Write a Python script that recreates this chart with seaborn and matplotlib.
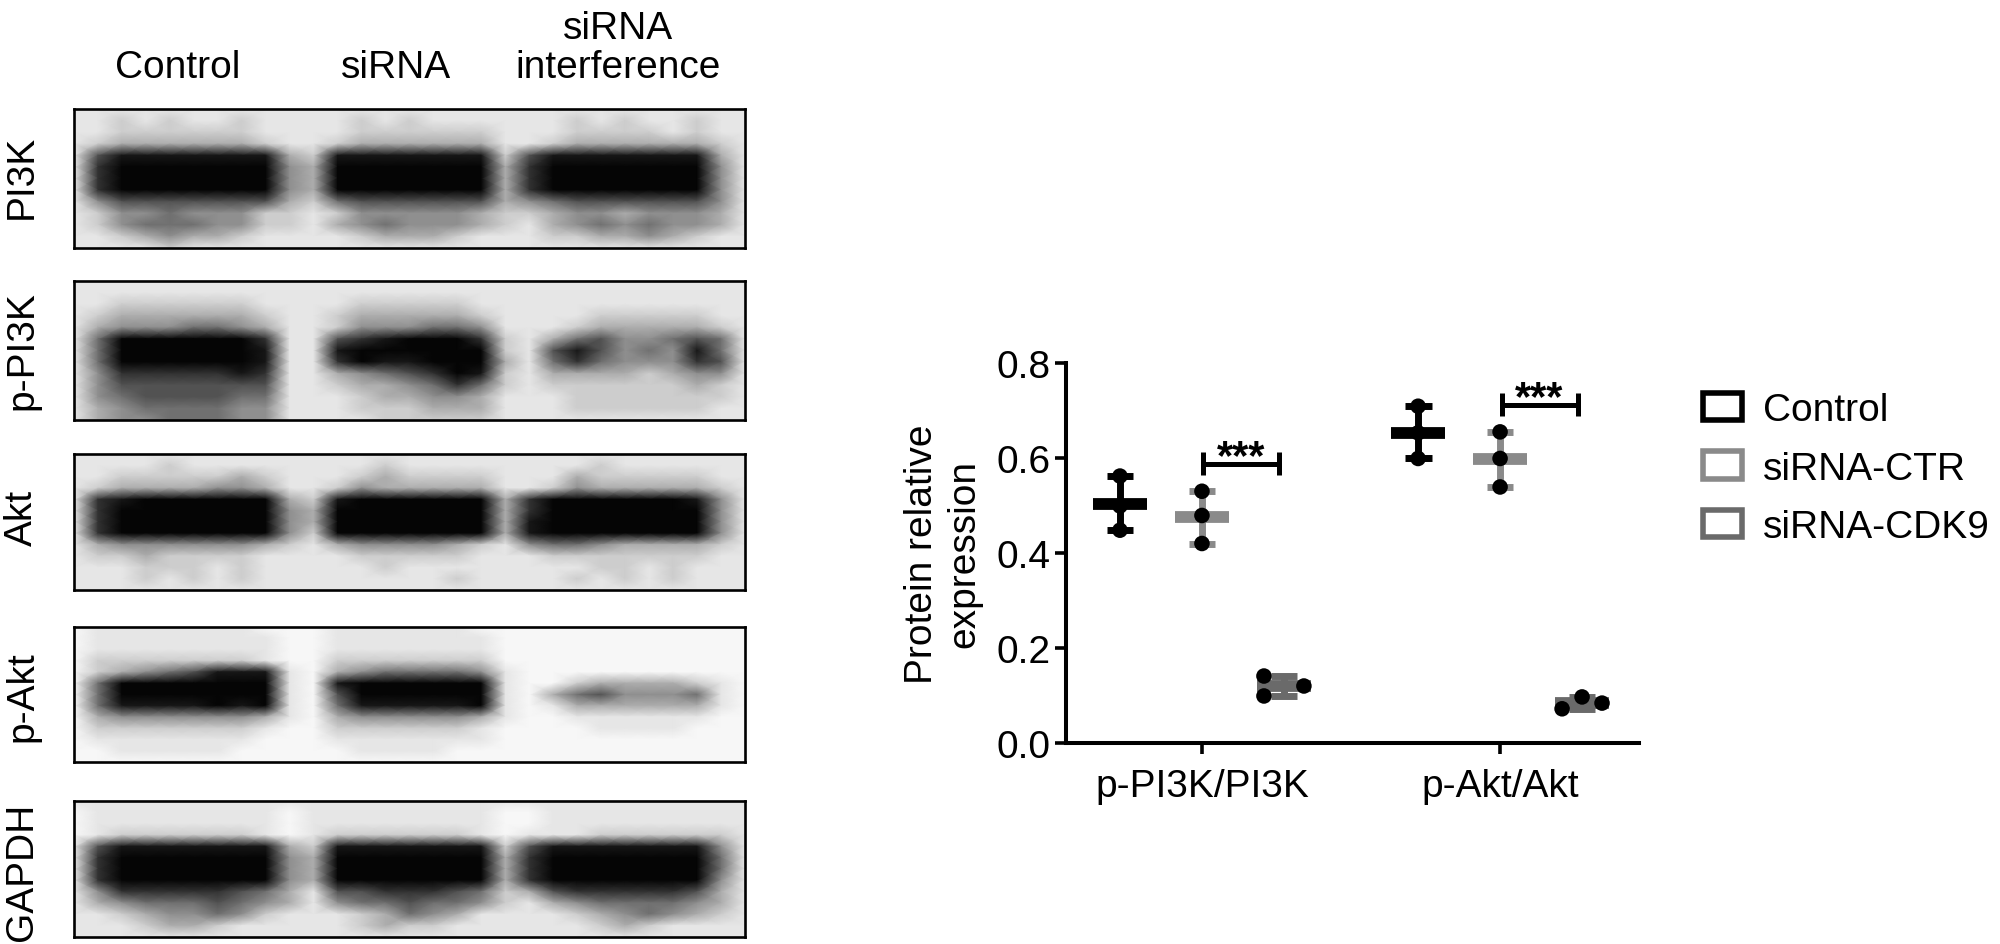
import numpy as np
import pandas as pd
import seaborn as sns
import matplotlib
matplotlib.use('Agg')
import matplotlib.pyplot as plt
from matplotlib.colors import LinearSegmentedColormap
from matplotlib.patches import Patch

W, H = 2000, 945

# chart values
targets = ['p-PI3K/PI3K', 'p-Akt/Akt']
groups = ['Control', 'siRNA-CTR', 'siRNA-CDK9']
colors = ['#000000', '#8a8a8a', '#6a6a6a']
control_vals = [[0.562, 0.499, 0.448], [0.709, 0.653, 0.599]]
ctr_vals = [[0.530, 0.479, 0.420], [0.655, 0.599, 0.539]]
cdk9_vals = [[0.141, 0.120, 0.099], [0.072, 0.097, 0.084]]
y_ticks = [0.0, 0.2, 0.4, 0.6, 0.8]
sig_levels = [0.588, 0.712]

# blots: darkness 0-9 on a coarse grid, spaces split the lanes
lanes = ['Control', 'siRNA', 'siRNA\ninterference']
pi3k_rows = [
    "1111111111 111111111 1111111111",
    "1121211211 112121111 1121211211",
    "1122222211 112222221 1122221211",
    "1233333321 123333331 1233333321",
    "1688888883 288888882 6888888831",
    "1799999994 399999993 7999999941",
    "1799999994 399999993 7999999941",
    "1799999994 399999993 7999999941",
    "1466666663 256666663 4566666641",
    "1244544422 124444432 2344344431",
    "1245554422 134544432 1345454431",
    "1123433211 112333211 1223343211",
    "1111211111 111111111 1111111111",
]
p_pi3k_rows = [
    "1111111111 111111111 1111111111",
    "1111111111 111111111 1111111111",
    "1122222211 112222211 1111111111",
    "1233333321 123333321 1112222211",
    "1344455431 124445541 1123333321",
    "1599999971 167899972 1356445651",
    "1599999981 189999992 1686454851",
    "1599999981 179889993 1575444761",
    "1477777871 134567982 1333323441",
    "1466666661 123345752 1222222321",
    "1456666551 112334431 1122222221",
    "1345555441 112223331 1122222211",
    "1344555441 111222221 1111111111",
]
akt_rows = [
    "1111111111 111111111 1111111111",
    "1111211111 111211111 1112111111",
    "1122222321 112322221 1132222211",
    "1233334431 124333331 1243333321",
    "1789999993 289999993 7999999841",
    "1799999994 399999993 7999999941",
    "1799999994 399999993 8999999941",
    "1799999994 299999993 8999999941",
    "1344444432 134444321 4554333321",
    "1223222211 112222211 1222222211",
    "1112221211 111211111 1112212111",
    "1112121211 111111211 1121212111",
    "1111111111 111111111 1111111111",
]
p_akt_rows = [
    "0111111100 011111100 0000000000",
    "0111111110 011111110 0000000000",
    "0111111110 011111110 0000000000",
    "0222222210 022222220 0000000000",
    "0234568881 034555541 0000000000",
    "0599999991 089999991 0023333210",
    "0599999991 069999991 0356444510",
    "0588889891 058888891 0133333310",
    "0344444431 034444431 0011111100",
    "0222222210 022222210 0001111000",
    "0111111100 011111110 0000000000",
    "0011111000 001111000 0000000000",
    "0000000000 000000000 0000000000",
]
gapdh_rows = [
    "1111111111 111111111 1111111111",
    "0111111110 111111110 0111111111",
    "0111111110 111111110 0111111111",
    "0122222210 122222210 1112222221",
    "1688888883 288888882 6888888841",
    "1799999994 399999993 7999999951",
    "1799999994 399999993 7999999951",
    "1799999994 399999993 7999999941",
    "1477777653 166777652 3677777631",
    "1345556543 145565542 1345555431",
    "1123445421 112354311 1123454321",
    "1112332111 112322111 1112321111",
    "1111111111 111111111 1111111111",
]
blot_names = ['PI3K', 'p-PI3K', 'Akt', 'p-Akt', 'GAPDH']
blot_grids = [pi3k_rows, p_pi3k_rows, akt_rows, p_akt_rows, gapdh_rows]

sns.set_theme(style='white')
plt.rcParams['font.family'] = ['Liberation Sans', 'DejaVu Sans']

fig = plt.figure(figsize=(W / 100, H / 100), dpi=100, facecolor='white')


def px_axes(left, top, right, bottom):
    return fig.add_axes([left / W, 1 - bottom / H, (right - left) / W, (bottom - top) / H])


film = LinearSegmentedColormap.from_list('film', [str(g) for g in
                                                  [.97, .90, .80, .68, .56, .44, .32, .20, .09, .02]])

# blots
blot_boxes = [(110, 249), (282, 421), (455, 591), (628, 763), (802, 938)]
label_y = [177, 351, 518, 697, 872]
for name, rows, box, ly in zip(blot_names, blot_grids, blot_boxes, label_y):
    grid = np.array([[int(c) for c in r.replace(' ', '')] for r in rows], dtype=float)
    ax = px_axes(74, box[0], 745, box[1])
    sns.heatmap(grid, ax=ax, cmap=film, vmin=0, vmax=9, cbar=False,
                xticklabels=False, yticklabels=False, shading='gouraud')
    ax.set_xlim(0, grid.shape[1] - 1)
    ax.set_ylim(grid.shape[0] - 1, 0)
    for s in ax.spines.values():
        s.set_visible(True)
        s.set_color('black')
        s.set_linewidth(1.9)
    fig.text(22 / W, 1 - ly / H, name, rotation=90, ha='center', va='center', fontsize=28, color='black')

fig.text(178 / W, 1 - 78 / H, lanes[0], ha='center', va='baseline', fontsize=28, color='black')
fig.text(396 / W, 1 - 78 / H, lanes[1], ha='center', va='baseline', fontsize=28, color='black')
fig.text(618 / W, 1 - 78 / H, lanes[2], ha='center', va='baseline', fontsize=28, color='black',
         linespacing=1.1, multialignment='center')

# dot plot
records = []
for grp, vals in zip(groups, [control_vals, ctr_vals, cdk9_vals]):
    for tgt, v in zip(targets, vals):
        for value in v:
            records.append({'target': tgt, 'group': grp, 'value': value})
df = pd.DataFrame(records)

ax = px_axes(1066, 364, 1639, 744)
hue_step = 0.275
sns.pointplot(data=df, x='target', y='value', hue='group', order=targets, hue_order=groups,
              palette=colors, errorbar=lambda v: (v.min(), v.max()), dodge=hue_step * 2,
              markers='_', linestyles='none', markersize=39, markeredgewidth=8.5,
              capsize=0.09, err_kws={'linewidth': 5, 'solid_capstyle': 'butt'}, legend=False, ax=ax)
sns.stripplot(data=df, x='target', y='value', hue='group', order=targets, hue_order=groups,
              palette=['black'] * 3, dodge=True, jitter=False, size=11.2, linewidth=0,
              legend=False, ax=ax)

# the points are spread sideways the way the original beeswarm has them
strips = [c for c in ax.collections if len(c.get_offsets()) == 3]
strips.sort(key=lambda c: c.get_offsets()[:, 0].mean())
swarm_spread = {2: [-0.067, 0.067, -0.067], 5: [-0.067, 0.0, 0.067]}
for i, c in enumerate(strips):
    pts = np.asarray(c.get_offsets()).copy()
    centre = i // 3 + (i % 3 - 1) * hue_step
    pts[:, 0] = centre + np.array(swarm_spread.get(i, [0, 0, 0]))
    c.set_offsets(pts)

ax.set_xlim(-0.456, 1.466)
ax.set_ylim(0, 0.8)
ax.set_yticks(y_ticks)
ax.set_yticklabels([f'{t:.1f}' for t in y_ticks])
ax.set_xlabel('')
ax.set_ylabel('Protein relative\nexpression', fontsize=28, labelpad=10, linespacing=1.25, color='black')
ax.tick_params(axis='both', which='major', labelsize=28, length=8, width=2.6, color='black',
               labelcolor='black', left=True, bottom=True)
ax.tick_params(axis='y', pad=3)
ax.tick_params(axis='x', pad=10)
sns.despine(ax=ax)
for s in ['left', 'bottom']:
    ax.spines[s].set_linewidth(2.9)
    ax.spines[s].set_color('black')
ax.patch.set_alpha(0)

# significance brackets
for i, lvl in enumerate(sig_levels):
    x0, x1 = i + 0.005, i + 0.26
    ax.plot([x0, x1], [lvl, lvl], color='black', lw=3.6, solid_capstyle='butt')
    ax.plot([x0, x0], [lvl - 0.024, lvl + 0.024], color='black', lw=3.6, solid_capstyle='butt')
    ax.plot([x1, x1], [lvl - 0.024, lvl + 0.024], color='black', lw=3.6, solid_capstyle='butt')
    ax.text((x0 + x1) / 2, lvl - 0.028, '***', ha='center', va='bottom', fontsize=30, fontweight='bold',
            color='black')

handles = [Patch(facecolor='white', edgecolor=c, linewidth=4) for c in colors]
fig.legend(handles, groups, loc='upper left', bbox_to_anchor=(1703 / W, 1 - 393 / H), frameon=False,
           fontsize=28, handlelength=1.0, handleheight=0.72, handletextpad=0.55, labelspacing=0.58,
           borderpad=0, borderaxespad=0, labelcolor='black')

fig.savefig('out.png', dpi=100)
